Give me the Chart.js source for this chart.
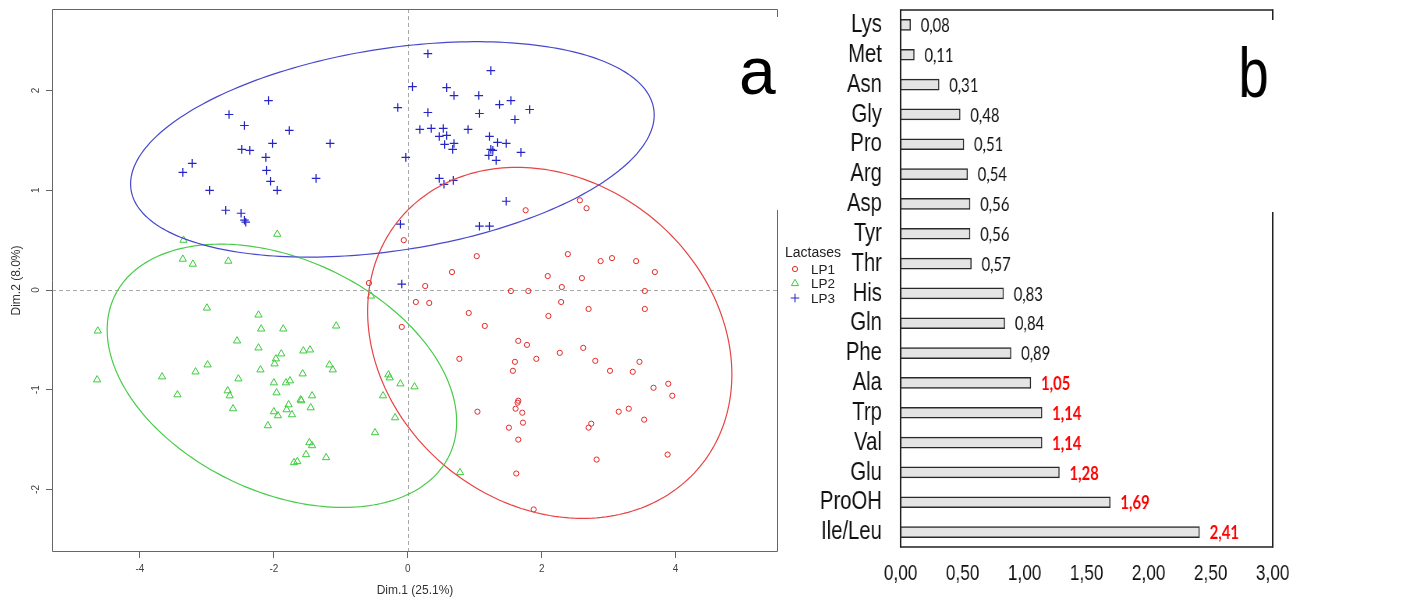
<!DOCTYPE html>
<html>
<head>
<meta charset="utf-8">
<script src="https://cdn.jsdelivr.net/npm/chart.js@4.4.1/dist/chart.umd.min.js"></script>
<style>
  html, body { margin: 0; padding: 0; background: #fff; overflow: hidden; }
  #wrap { position: relative; width: 1406px; height: 601px; }
  #pcaChart { position: absolute; left: 0; top: 0; }
  /* panel b is drawn wide and squeezed horizontally */
  #ratioChart { position: absolute; left: 800px; top: 0; transform: scaleX(0.78); transform-origin: 0 0; }
</style>
</head>
<body>
<div id="wrap">
  <canvas id="pcaChart" width="850" height="601"></canvas>
  <canvas id="ratioChart" width="777" height="601"></canvas>
</div>
<script>
// ---- panel a: individual scores on Dim.1 / Dim.2 ----
const groupNames = ['LP1', 'LP2', 'LP3'];

const lp1Scores = [
  [0.26, 0.04], [0.12, -0.12], [0.32, -0.13], [-0.09, -0.37], [0.91, -0.23], [1.15, -0.36],
  [1.54, -0.01], [1.80, -0.01], [2.30, 0.03], [2.29, -0.12], [2.10, -0.26], [2.70, -0.19],
  [3.54, -0.01], [3.54, -0.19], [0.77, -0.69], [1.65, -0.51], [1.78, -0.55], [1.92, -0.69],
  [1.60, -0.72], [1.57, -0.81], [2.27, -0.63], [2.62, -0.58], [2.80, -0.71], [3.02, -0.81],
  [3.36, -0.82], [3.46, -0.72], [3.67, -0.98], [3.89, -0.94], [3.95, -1.06], [1.04, -1.22],
  [1.64, -1.13], [1.65, -1.11], [1.61, -1.19], [1.71, -1.23], [1.72, -1.33], [1.51, -1.38],
  [1.65, -1.50], [1.62, -1.84], [1.88, -2.20], [2.74, -1.34], [2.70, -1.38], [2.82, -1.70],
  [3.15, -1.22], [3.30, -1.19], [3.53, -1.30], [3.88, -1.65], [2.57, 0.90], [2.67, 0.82],
  [1.76, 0.80], [-0.06, 0.50], [1.03, 0.34], [0.66, 0.18], [2.39, 0.36], [2.88, 0.29],
  [3.05, 0.32], [3.41, 0.29], [3.69, 0.18], [2.09, 0.14], [2.60, 0.12], [-0.58, 0.07]
];

const lp2Scores = [
  [-3.00, -0.18], [-4.63, -0.41], [-4.64, -0.90], [-3.67, -0.87], [-3.44, -1.05], [-3.17, -0.82],
  [-2.99, -0.75], [-2.55, -0.51], [-2.53, -0.89], [-2.69, -1.01], [-2.66, -1.06], [-2.61, -1.19],
  [-2.23, -0.25], [-2.19, -0.39], [-1.86, -0.39], [-2.23, -0.58], [-2.20, -0.80], [-1.89, -0.64],
  [-1.97, -0.69], [-1.99, -0.74], [-1.56, -0.61], [-1.46, -0.60], [-1.57, -0.84], [-2.00, -0.93],
  [-1.82, -0.93], [-1.76, -0.91], [-1.96, -1.03], [-1.60, -1.10], [-1.59, -1.11], [-1.43, -1.06],
  [-1.45, -1.18], [-1.78, -1.15], [-1.81, -1.20], [-1.73, -1.25], [-2.00, -1.22], [-1.94, -1.26],
  [-2.09, -1.36], [-1.07, -0.36], [-1.17, -0.75], [-1.12, -0.80], [-1.47, -1.53], [-1.43, -1.56],
  [-1.52, -1.65], [-1.22, -1.68], [-1.70, -1.73], [-1.65, -1.72], [-0.55, -0.06], [-0.29, -0.85],
  [-0.27, -0.88], [-0.11, -0.94], [0.10, -0.97], [-0.37, -1.06], [-0.19, -1.28], [-0.49, -1.43],
  [0.78, -1.83], [-3.35, 0.50], [-3.36, 0.31], [-3.21, 0.26], [-2.68, 0.29], [-1.95, 0.56]
];

const lp3Scores = [
  [-3.36, 1.18], [-3.22, 1.27], [-2.96, 1.00], [-2.67, 1.76], [-2.44, 1.65], [-2.08, 1.90],
  [-1.77, 1.60], [-2.48, 1.41], [-2.36, 1.40], [-2.02, 1.47], [-2.12, 1.33], [-2.11, 1.20],
  [-2.05, 1.09], [-1.95, 1.00], [-1.37, 1.12], [-1.16, 1.47], [-2.72, 0.80], [-2.49, 0.77],
  [-2.44, 0.70], [-2.42, 0.68], [-0.15, 1.83], [-0.03, 1.33], [-0.11, 0.66], [-0.09, 0.06],
  [0.30, 2.37], [1.24, 2.20], [0.07, 2.04], [0.58, 2.03], [0.69, 1.95], [1.06, 1.95],
  [1.37, 1.86], [1.54, 1.90], [1.82, 1.81], [0.30, 1.78], [1.07, 1.77], [1.60, 1.71],
  [0.18, 1.61], [0.35, 1.62], [0.53, 1.62], [0.90, 1.61], [0.47, 1.54], [0.58, 1.55],
  [1.22, 1.54], [0.55, 1.46], [0.69, 1.47], [0.67, 1.41], [1.34, 1.48], [1.47, 1.47],
  [1.24, 1.41], [1.27, 1.40], [1.21, 1.35], [1.32, 1.30], [1.69, 1.38], [0.47, 1.12],
  [0.54, 1.06], [0.68, 1.10], [1.47, 0.89], [1.07, 0.64], [1.22, 0.64]
];

// confidence ellipses per group: centre, half-width, half-height, correlation
const ellipseCentres = [[2.12, -0.53], [-1.88, -0.86], [-0.23, 1.41]];
const ellipseHalfWidths = [2.72, 2.61, 3.91];
const ellipseHalfHeights = [1.76, 1.32, 1.08];
const ellipseCorr = [-0.18, -0.35, 0.32];

const dim1Ticks = [-4, -2, 0, 2, 4];
const dim2Ticks = [-2, -1, 0, 1, 2];

// ---- panel b: ratios per amino acid ----
const aminoAcids = ['Lys', 'Met', 'Asn', 'Gly', 'Pro', 'Arg', 'Asp', 'Tyr', 'Thr',
  'His', 'Gln', 'Phe', 'Ala', 'Trp', 'Val', 'Glu', 'ProOH', 'Ile/Leu'];
const ratios = [0.08, 0.11, 0.31, 0.48, 0.51, 0.54, 0.56, 0.56, 0.57,
  0.83, 0.84, 0.89, 1.05, 1.14, 1.14, 1.28, 1.69, 2.41];
const ratioTicks = [0, 0.5, 1, 1.5, 2, 2.5, 3];

const SANS = "'Liberation Sans', Arial, sans-serif";
const markerColours = ['#e52a2a', '#3ccc3c', '#2626c8'];
const ellipseColours = ['#e84444', '#48cc48', '#4848cc'];
const markerStyles = ['circle', 'triangle', 'cross'];
const markerSizes = [2.6, 4.2, 4.3];

const toPoints = arr => arr.map(([x, y]) => ({ x, y }));
const comma = v => v.toFixed(2).replace('.', ',');

const pcaDecor = {
  id: 'pcaDecor',
  beforeDatasetsDraw(chart) {
    const { ctx, chartArea: a, scales: { x, y } } = chart;
    ctx.save();
    // dashed reference lines through the origin
    ctx.strokeStyle = '#a8a8a8';
    ctx.lineWidth = 1;
    ctx.setLineDash([4, 3]);
    ctx.beginPath();
    const x0 = Math.round(x.getPixelForValue(0)) + 0.5;
    const y0 = Math.round(y.getPixelForValue(0)) + 0.5;
    ctx.moveTo(x0, a.top); ctx.lineTo(x0, a.bottom);
    ctx.moveTo(a.left, y0); ctx.lineTo(a.right, y0);
    ctx.stroke();
    ctx.setLineDash([]);

    // plot frame, right edge is interrupted behind the panel letter
    ctx.strokeStyle = '#666';
    ctx.beginPath();
    const L = a.left + 0.5, R = a.right - 0.5, T = a.top + 0.5, B = a.bottom - 0.5;
    ctx.moveTo(L, T); ctx.lineTo(L, B); ctx.lineTo(R, B); ctx.lineTo(R, 210);
    ctx.moveTo(R, 17); ctx.lineTo(R, T); ctx.lineTo(L, T);
    ctx.stroke();

    // y tick labels, parallel to the axis
    ctx.fillStyle = '#444';
    ctx.font = '10px ' + SANS;
    ctx.textAlign = 'center';
    ctx.textBaseline = 'middle';
    y.ticks.forEach(t => {
      ctx.save();
      ctx.translate(36.5, y.getPixelForValue(t.value));
      ctx.rotate(-Math.PI / 2);
      ctx.fillText(String(t.value), 0, 0);
      ctx.restore();
    });
    ctx.restore();
  },
  afterDatasetsDraw(chart) {
    const { ctx, scales: { x, y } } = chart;
    ctx.save();
    ellipseCentres.forEach(([cx, cy], i) => {
      const rx = ellipseHalfWidths[i], ry = ellipseHalfHeights[i], r = ellipseCorr[i];
      const s = Math.sqrt(1 - r * r);
      ctx.beginPath();
      for (let k = 0; k <= 240; k++) {
        const t = k / 240 * 2 * Math.PI;
        const px = x.getPixelForValue(cx + rx * Math.cos(t));
        const py = y.getPixelForValue(cy + ry * (r * Math.cos(t) + s * Math.sin(t)));
        if (k === 0) ctx.moveTo(px, py); else ctx.lineTo(px, py);
      }
      ctx.strokeStyle = ellipseColours[i];
      ctx.lineWidth = 1.2;
      ctx.stroke();
    });

    // legend
    ctx.fillStyle = '#222';
    ctx.font = '14px ' + SANS;
    ctx.textAlign = 'left';
    ctx.textBaseline = 'middle';
    ctx.fillText('Lactases', 785, 253);
    ctx.font = '13.5px ' + SANS;
    groupNames.forEach((name, i) => {
      const ly = 269 + i * 14.5;
      ctx.strokeStyle = markerColours[i];
      ctx.fillStyle = 'rgba(0,0,0,0)';
      ctx.lineWidth = 1;
      Chart.helpers.drawPoint(ctx, { pointStyle: markerStyles[i], radius: markerSizes[i], rotation: 0, borderWidth: 1 }, 795, ly);
      ctx.fillStyle = '#222';
      ctx.fillText(name, 811, ly + 1);
    });

    // panel letter
    ctx.fillStyle = '#000';
    ctx.font = '66px ' + SANS;
    ctx.textBaseline = 'alphabetic';
    ctx.fillText('a', 739, 93.5);
    ctx.restore();
  }
};

new Chart(document.getElementById('pcaChart'), {
  type: 'scatter',
  data: {
    datasets: [lp1Scores, lp2Scores, lp3Scores].map((scores, i) => ({
      label: groupNames[i],
      data: toPoints(scores),
      pointStyle: markerStyles[i],
      pointRadius: markerSizes[i],
      borderColor: markerColours[i],
      backgroundColor: 'rgba(0,0,0,0)',
      pointBorderWidth: i === 2 ? 1.2 : 1
    }))
  },
  options: {
    responsive: false,
    animation: false,
    devicePixelRatio: 1,
    layout: { padding: { left: 0, right: 72, top: 9, bottom: 0 } },
    plugins: { legend: { display: false }, tooltip: { enabled: false } },
    scales: {
      x: {
        type: 'linear', min: -5.314, max: 5.529,
        afterBuildTicks: s => { s.ticks = dim1Ticks.map(v => ({ value: v })); },
        afterFit: s => { s.height = 49; },
        grid: { drawOnChartArea: false, drawTicks: true, tickLength: 6, color: '#666' },
        border: { display: false },
        ticks: { font: { family: SANS, size: 10 }, color: '#444', padding: 5, maxRotation: 0 },
        title: { display: true, text: 'Dim.1 (25.1%)', font: { family: SANS, size: 12 }, color: '#333', padding: { top: 0, bottom: 3 } }
      },
      y: {
        type: 'linear', min: -2.627, max: 2.818,
        afterBuildTicks: s => { s.ticks = dim2Ticks.map(v => ({ value: v })); },
        afterFit: s => { s.width = 52; },
        grid: { drawOnChartArea: false, drawTicks: true, tickLength: 6, color: '#666' },
        border: { display: false },
        ticks: { display: false },
        title: { display: true, text: 'Dim.2 (8.0%)', font: { family: SANS, size: 12 }, color: '#333', padding: { top: 9, bottom: 0 } }
      }
    }
  },
  plugins: [pcaDecor]
});

// ---- panel b ----
const ratioDecor = {
  id: 'ratioDecor',
  afterDatasetsDraw(chart) {
    const { ctx, chartArea: a } = chart;
    ctx.save();
    // frame; the right side leaves room for the panel letter
    ctx.strokeStyle = '#222';
    ctx.lineWidth = 1.5;
    ctx.beginPath();
    ctx.moveTo(a.left, a.top); ctx.lineTo(a.right, a.top);
    ctx.moveTo(a.left, a.bottom); ctx.lineTo(a.right, a.bottom);
    ctx.stroke();
    ctx.lineWidth = 2;
    ctx.beginPath();
    ctx.moveTo(a.left, a.top - 0.75); ctx.lineTo(a.left, a.bottom + 0.75);
    ctx.moveTo(a.right, a.top - 0.75); ctx.lineTo(a.right, 20);
    ctx.moveTo(a.right, 212); ctx.lineTo(a.right, a.bottom + 0.75);
    ctx.stroke();

    // value labels, ratios above 1 highlighted
    ctx.textAlign = 'left';
    ctx.textBaseline = 'middle';
    chart.getDatasetMeta(0).data.forEach((bar, i) => {
      const v = ratios[i];
      const high = v >= 1;
      ctx.font = (high ? 'bold ' : '') + "19px Lato, 'Open Sans', sans-serif";
      ctx.fillStyle = high ? '#ff0000' : '#111';
      ctx.fillText(comma(v), bar.x + 13, bar.y + 1);
    });

    ctx.fillStyle = '#000';
    ctx.font = '70px ' + SANS;
    ctx.textBaseline = 'alphabetic';
    ctx.fillText('b', 562, 96.5);
    ctx.restore();
  }
};

new Chart(document.getElementById('ratioChart'), {
  type: 'bar',
  data: {
    labels: aminoAcids,
    datasets: [{
      data: ratios,
      backgroundColor: '#e4e4e4',
      borderColor: '#2a2a2a',
      borderWidth: 1.5,
      borderSkipped: false,
      barThickness: 11
    }]
  },
  options: {
    indexAxis: 'y',
    responsive: false,
    animation: false,
    devicePixelRatio: 1,
    layout: { padding: { left: 0, right: 171, top: 10, bottom: 0 } },
    plugins: { legend: { display: false }, tooltip: { enabled: false } },
    scales: {
      x: {
        min: 0, max: 3,
        afterBuildTicks: s => { s.ticks = ratioTicks.map(v => ({ value: v })); },
        afterFit: s => { s.height = 54; s.paddingLeft = 0; s.paddingRight = 0; },
        grid: { display: false, drawTicks: false },
        border: { display: false },
        ticks: { callback: v => comma(v), font: { family: SANS, size: 22 }, color: '#111', padding: 14, maxRotation: 0 }
      },
      y: {
        afterFit: s => { s.width = 129; s.paddingTop = 0; s.paddingBottom = 0; },
        grid: { display: false, drawTicks: false },
        border: { display: false },
        ticks: { autoSkip: false, font: { family: SANS, size: 26 }, color: '#111', padding: 24 }
      }
    }
  },
  plugins: [ratioDecor]
});
</script>
</body>
</html>
